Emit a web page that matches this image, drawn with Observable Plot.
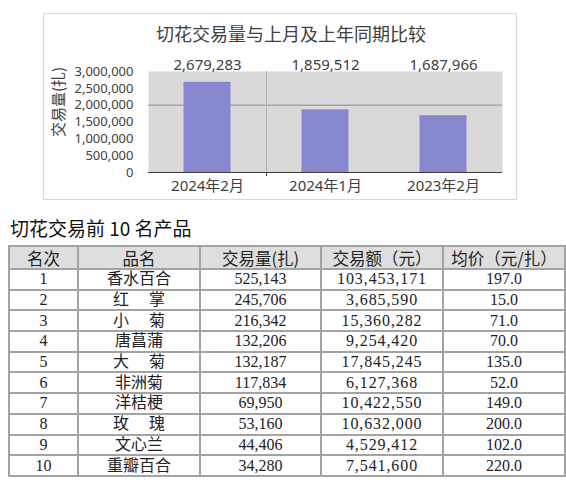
<!DOCTYPE html>
<html>
<head>
<meta charset="utf-8">
<script src="https://cdn.jsdelivr.net/npm/d3@7"></script>
<script src="https://cdn.jsdelivr.net/npm/@observablehq/plot@0.6"></script>
<style>
  html, body { margin: 0; padding: 0; background: #fff; }
  #page { position: relative; width: 566px; height: 490px; overflow: hidden; }
  #chartbox { position: absolute; left: 43px; top: 13px; width: 474px; height: 187px; border: 1px solid #d9d9d9; box-sizing: border-box; }
  #chartbox svg { position: absolute; left: 0; top: 0; }
  #ctitle { position: absolute; left: 141px; top: 22px; width: 300px; text-align: center; font: 18px "Noto Sans CJK SC", sans-serif; line-height: 22px; color: #404040; white-space: nowrap; }
  #ylabel { position: absolute; left: 57px; top: 102px; transform: translate(-50%, -50%) rotate(-90deg); font: 15px "Noto Sans CJK SC", sans-serif; color: #404040; white-space: nowrap; }
  #ttitle { position: absolute; left: 10px; top: 216px; font: 19px "Noto Sans CJK SC", sans-serif; line-height: 24px; color: #111; white-space: nowrap; }
  #tbl { position: absolute; left: 8px; top: 245px; width: 556px; border-collapse: collapse; table-layout: fixed; font: 16px "Liberation Serif", "Noto Sans CJK SC", serif; color: #222; }
  #tbl td, #tbl th { border: 2px solid #a3a3a3; padding: 0; text-align: center; white-space: nowrap; line-height: 18px; height: 18.7px; font-weight: normal; }
  #tbl th { background: #dedede; height: 21px; font-family: "Noto Sans CJK SC", serif; font-size: 16.5px; }
  #tbl td.amt { letter-spacing: 0.9px; }
</style>
</head>
<body>
<div id="page">
  <div id="chartbox"></div>
  <div id="ctitle"></div>
  <div id="ylabel"></div>
  <div id="ttitle"></div>
  <table id="tbl"></table>
</div>
<script>
// ---- Chart data ----
const chartTitle = "切花交易量与上月及上年同期比较";
const yAxisLabel = "交易量(扎)";
const periods = ["2024年2月", "2024年1月", "2023年2月"];
const volumes = [2679283, 1859512, 1687966];
const yTicks = [0, 500000, 1000000, 1500000, 2000000, 2500000, 3000000];
const yMax = 3000000;
const gridValue = 2000000;

// ---- Table data ----
const tableTitle = "切花交易前 10 名产品";
const headers = ["名次", "品名", "交易量(扎)", "交易额（元）", "均价（元/扎）"];
const ranks = [1, 2, 3, 4, 5, 6, 7, 8, 9, 10];
const products = ["香水百合", "红　 掌", "小　 菊", "唐菖蒲", "大　 菊", "非洲菊", "洋桔梗", "玫　 瑰", "文心兰", "重瓣百合"];
const tradeVolumes = [525143, 245706, 216342, 132206, 132187, 117834, 69950, 53160, 44406, 34280];
const tradeAmounts = [103453171, 3685590, 15360282, 9254420, 17845245, 6127368, 10422550, 10632000, 4529412, 7541600];
const avgPrices = [197, 15, 71, 70, 135, 52, 149, 200, 102, 220];

const fmt = d3.format(",");
const data = periods.map((p, i) => ({ period: p, i, volume: volumes[i] }));

const chart = Plot.plot({
  width: 472,
  height: 185,
  marginLeft: 104,
  marginRight: 14,
  marginTop: 57,
  marginBottom: 27,
  style: { fontFamily: "'Noto Sans','Noto Sans CJK SC',sans-serif", color: "#404040", background: "transparent", overflow: "visible" },
  x: { domain: [0, periods.length], axis: null },
  y: { domain: [0, yMax], axis: null },
  marks: [
    Plot.frame({ fill: "#d9d9d9", stroke: null }),
    Plot.ruleY([gridValue], { stroke: "#8c8c8c" }),
    Plot.ruleX([1], { stroke: "#b0b0b0" }),
    Plot.rect(data, { x1: "i", x2: d => d.i + 1, y1: 0, y2: "volume", fill: "#8787d0", insetLeft: 35.5, insetRight: 35.5 }),
    Plot.ruleY([0], { stroke: "#404040" }),
    Plot.axisY({ ticks: yTicks, tickSize: 0, tickPadding: 15, tickFormat: fmt, fontSize: 13, label: null }),
    Plot.axisX({ ticks: data.map(d => d.i + 0.5), tickSize: 0, tickPadding: 8, tickFormat: d => periods[Math.floor(d)], fontSize: 15, label: null }),
    Plot.axisX({ ticks: [1], tickSize: 4, tickFormat: () => "", label: null, stroke: "#404040" }),
    Plot.text(data, { x: d => d.i + 0.5, text: d => fmt(d.volume), frameAnchor: "top", dy: -12, fontSize: 15, fill: "#404040" })
  ]
});
document.getElementById("chartbox").appendChild(chart);
document.getElementById("ctitle").textContent = chartTitle;
document.getElementById("ylabel").textContent = yAxisLabel;
document.getElementById("ttitle").textContent = tableTitle;

// ---- Table ----
const tbl = document.getElementById("tbl");
const colWidths = [69, 122, 121, 122, 122];
const cg = document.createElement("colgroup");
colWidths.forEach(w => { const c = document.createElement("col"); c.style.width = w + "px"; cg.appendChild(c); });
tbl.appendChild(cg);
const hr = document.createElement("tr");
headers.forEach(h => { const th = document.createElement("th"); th.textContent = h; hr.appendChild(th); });
tbl.appendChild(hr);
ranks.forEach((r, i) => {
  const tr = document.createElement("tr");
  const cells = [String(r), products[i], fmt(tradeVolumes[i]), fmt(tradeAmounts[i]), avgPrices[i].toFixed(1)];
  cells.forEach((c, j) => {
    const td = document.createElement("td");
    td.textContent = c;
    if (j === 3) td.className = "amt";
    tr.appendChild(td);
  });
  tbl.appendChild(tr);
});
</script>
</body>
</html>
